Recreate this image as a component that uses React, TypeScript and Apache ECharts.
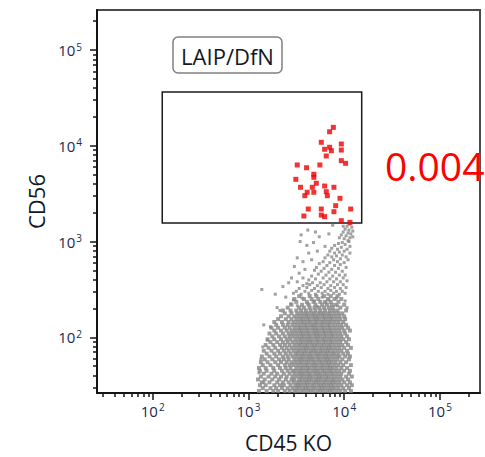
import React, { useEffect, useRef } from "react";
import * as echarts from "echarts";

// Axis range in log10 units: 26.2144 .. 262144 (18-bit cytometer scale)
const AXIS_MIN = 1.4185;
const AXIS_MAX = 5.4185;
const majorExps = [2, 3, 4, 5];
const minorTickValues = [
  30, 40, 50, 60, 70, 80, 90,
  200, 300, 400, 500, 600, 700, 800, 900,
  2000, 3000, 4000, 5000, 6000, 7000, 8000, 9000,
  20000, 30000, 40000, 50000, 60000, 70000, 80000, 90000,
  200000,
];

// Gate (log10 CD45 KO, log10 CD56)
const gateLogX = [2.1, 4.183];
const gateLogY = [3.194, 4.562];

// LAIP/DfN events (log10 CD45 KO, log10 CD56)
const laipEvents: [number, number][] = [
  [3.887, 4.193], [3.848, 4.147], [3.761, 4.037], [3.97, 4.019], [3.848, 3.985],
  [3.796, 3.964], [3.866, 3.949], [3.97, 3.956], [3.813, 3.894], [3.97, 3.845],
  [4.015, 3.817], [3.51, 3.8], [3.607, 3.771], [3.746, 3.8], [3.683, 3.703],
  [3.683, 3.671], [3.495, 3.65], [3.709, 3.609], [3.544, 3.567], [3.667, 3.567],
  [3.796, 3.58], [3.893, 3.567], [3.614, 3.515], [3.683, 3.515], [3.589, 3.479],
  [3.813, 3.521], [3.824, 3.479], [3.956, 3.452], [3.911, 3.375], [3.625, 3.34],
  [3.761, 3.34], [4.068, 3.34], [3.893, 3.312], [3.579, 3.267], [3.761, 3.277],
  [3.796, 3.26], [3.97, 3.218], [4.06, 3.201],
];

// Dense gray population, read row by row (log10 CD56 row -> log10 CD45 KO events)
const grayRowY = [
  1.44, 1.47, 1.5, 1.53, 1.56, 1.59, 1.62, 1.65, 1.68, 1.71, 1.74, 1.77, 1.8, 1.83, 1.86, 1.89, 1.92,
  1.95, 1.98, 2.01, 2.04, 2.07, 2.1, 2.13, 2.16, 2.19, 2.22, 2.25, 2.28, 2.31, 2.34, 2.37, 2.4, 2.43,
];
const grayRowX: number[][] = [
  [3.11, 3.19, 3.26, 3.31, 3.38, 3.43, 3.48, 3.51, 3.55, 3.58, 3.62, 3.65, 3.68, 3.72, 3.75, 3.78, 3.82, 3.85, 3.88, 3.92, 3.96, 4.01, 4.07],
  [3.15, 3.23, 3.29, 3.35, 3.41, 3.46, 3.5, 3.53, 3.57, 3.6, 3.63, 3.67, 3.7, 3.74, 3.77, 3.8, 3.84, 3.87, 3.9, 3.94, 3.99, 4.05],
  [3.12, 3.18, 3.27, 3.33, 3.37, 3.44, 3.49, 3.52, 3.55, 3.59, 3.62, 3.66, 3.69, 3.73, 3.76, 3.79, 3.83, 3.86, 3.89, 3.93, 3.97, 4.03, 4.08],
  [3.14, 3.22, 3.3, 3.36, 3.42, 3.47, 3.51, 3.54, 3.58, 3.61, 3.64, 3.68, 3.71, 3.74, 3.78, 3.81, 3.85, 3.88, 3.91, 3.95, 4.0, 4.06],
  [3.1, 3.17, 3.25, 3.32, 3.39, 3.45, 3.48, 3.53, 3.56, 3.6, 3.63, 3.66, 3.7, 3.73, 3.76, 3.8, 3.83, 3.87, 3.9, 3.94, 3.98, 4.04],
  [3.13, 3.21, 3.28, 3.34, 3.4, 3.46, 3.5, 3.54, 3.57, 3.61, 3.64, 3.67, 3.71, 3.74, 3.77, 3.81, 3.84, 3.88, 3.92, 3.96, 4.02, 4.08],
  [3.16, 3.24, 3.3, 3.37, 3.43, 3.48, 3.52, 3.55, 3.58, 3.62, 3.65, 3.69, 3.72, 3.75, 3.79, 3.82, 3.86, 3.89, 3.93, 3.97, 4.05],
  [3.12, 3.19, 3.27, 3.35, 3.41, 3.46, 3.49, 3.53, 3.56, 3.6, 3.63, 3.67, 3.7, 3.73, 3.77, 3.8, 3.84, 3.87, 3.91, 3.95, 4.0, 4.06],
  [3.11, 3.18, 3.26, 3.33, 3.39, 3.44, 3.5, 3.54, 3.57, 3.61, 3.64, 3.68, 3.71, 3.75, 3.78, 3.82, 3.85, 3.88, 3.92, 3.97, 4.03],
  [3.15, 3.23, 3.31, 3.38, 3.43, 3.47, 3.51, 3.55, 3.59, 3.62, 3.66, 3.69, 3.72, 3.76, 3.79, 3.83, 3.86, 3.9, 3.94, 3.99, 4.07],
  [3.13, 3.2, 3.28, 3.34, 3.4, 3.45, 3.49, 3.53, 3.56, 3.6, 3.63, 3.67, 3.7, 3.74, 3.77, 3.81, 3.84, 3.87, 3.91, 3.96, 4.02],
  [3.17, 3.25, 3.32, 3.37, 3.42, 3.48, 3.52, 3.55, 3.58, 3.62, 3.65, 3.68, 3.72, 3.75, 3.79, 3.82, 3.85, 3.89, 3.93, 3.98, 4.05],
  [3.14, 3.22, 3.29, 3.36, 3.41, 3.46, 3.5, 3.54, 3.57, 3.61, 3.64, 3.67, 3.71, 3.74, 3.78, 3.81, 3.84, 3.88, 3.92, 3.95, 4.01, 4.06],
  [3.19, 3.27, 3.33, 3.39, 3.44, 3.49, 3.52, 3.56, 3.59, 3.63, 3.66, 3.7, 3.73, 3.76, 3.8, 3.83, 3.87, 3.9, 3.94, 3.99, 4.04],
  [3.16, 3.24, 3.31, 3.37, 3.42, 3.47, 3.51, 3.54, 3.58, 3.61, 3.65, 3.68, 3.71, 3.75, 3.78, 3.82, 3.85, 3.89, 3.93, 3.97, 4.03],
  [3.21, 3.28, 3.35, 3.4, 3.45, 3.49, 3.53, 3.57, 3.6, 3.63, 3.67, 3.7, 3.74, 3.77, 3.81, 3.84, 3.87, 3.91, 3.95, 4.0, 4.07],
  [3.18, 3.26, 3.33, 3.38, 3.43, 3.48, 3.52, 3.55, 3.59, 3.62, 3.66, 3.69, 3.72, 3.76, 3.79, 3.83, 3.86, 3.9, 3.94, 3.98, 4.04],
  [3.23, 3.3, 3.36, 3.41, 3.46, 3.5, 3.54, 3.57, 3.61, 3.64, 3.67, 3.71, 3.74, 3.78, 3.81, 3.85, 3.88, 3.92, 3.96, 4.02],
  [3.2, 3.27, 3.34, 3.4, 3.44, 3.49, 3.53, 3.56, 3.6, 3.63, 3.66, 3.7, 3.73, 3.77, 3.8, 3.84, 3.87, 3.91, 3.95, 3.99, 4.05],
  [3.25, 3.32, 3.38, 3.43, 3.47, 3.51, 3.55, 3.58, 3.62, 3.65, 3.69, 3.72, 3.75, 3.79, 3.82, 3.86, 3.89, 3.93, 3.97, 4.03],
  [3.22, 3.29, 3.36, 3.42, 3.46, 3.5, 3.54, 3.57, 3.61, 3.64, 3.68, 3.71, 3.74, 3.78, 3.81, 3.85, 3.88, 3.92, 3.96, 4.01],
  [3.27, 3.34, 3.4, 3.45, 3.49, 3.53, 3.56, 3.6, 3.63, 3.67, 3.7, 3.73, 3.77, 3.8, 3.84, 3.87, 3.91, 3.95, 4.0, 4.06],
  [3.24, 3.31, 3.38, 3.43, 3.48, 3.52, 3.55, 3.59, 3.62, 3.66, 3.69, 3.72, 3.76, 3.79, 3.83, 3.86, 3.9, 3.94, 3.98, 4.04],
  [3.29, 3.36, 3.41, 3.46, 3.5, 3.54, 3.58, 3.61, 3.65, 3.68, 3.71, 3.75, 3.78, 3.82, 3.85, 3.89, 3.93, 3.97, 4.02],
  [3.27, 3.35, 3.42, 3.47, 3.51, 3.55, 3.58, 3.62, 3.65, 3.69, 3.72, 3.76, 3.79, 3.83, 3.86, 3.9, 3.94, 3.99],
  [3.31, 3.39, 3.45, 3.5, 3.54, 3.57, 3.61, 3.64, 3.68, 3.71, 3.74, 3.78, 3.81, 3.85, 3.88, 3.92, 3.96, 4.01],
  [3.34, 3.42, 3.48, 3.52, 3.56, 3.6, 3.63, 3.67, 3.7, 3.73, 3.77, 3.8, 3.84, 3.87, 3.91, 3.95, 4.0],
  [3.38, 3.45, 3.51, 3.55, 3.59, 3.62, 3.66, 3.69, 3.73, 3.76, 3.79, 3.83, 3.86, 3.9, 3.94, 3.98],
  [3.36, 3.44, 3.5, 3.55, 3.6, 3.65, 3.7, 3.75, 3.8, 3.85, 3.89, 3.93, 4.02],
  [3.41, 3.53, 3.58, 3.64, 3.69, 3.74, 3.79, 3.84, 3.88, 3.96],
  [3.45, 3.56, 3.63, 3.7, 3.77, 3.82, 3.87, 3.91, 4.0],
  [3.5, 3.61, 3.68, 3.75, 3.8, 3.86, 3.94],
  [3.48, 3.58, 3.66, 3.73, 3.83, 3.9, 3.97],
  [3.53, 3.64, 3.71, 3.79, 3.86, 3.93],
];

// Sparse gray events (streak toward the gate and outliers)
const graySparse: [number, number][] = [
  [4.06, 3.18], [4.08, 3.15], [4.03, 3.16], [4.05, 3.12], [4.09, 3.11], [4.01, 3.13], [4.07, 3.08], [4.04, 3.09],
  [3.99, 3.1], [4.02, 3.06], [4.06, 3.04], [3.97, 3.07], [4.09, 3.05], [4.0, 3.03], [4.04, 3.01], [3.95, 3.04],
  [3.88, 3.17], [3.99, 3.16],
  [4.05, 3.0], [3.98, 2.99], [4.01, 2.97], [3.94, 2.98], [4.06, 2.95], [3.9, 2.96], [3.97, 2.94], [4.03, 2.92],
  [3.93, 2.92], [3.87, 2.93], [4.0, 2.9], [3.95, 2.89], [4.06, 2.88], [3.9, 2.88], [3.85, 2.9], [3.98, 2.86],
  [4.02, 2.84], [3.92, 2.85], [3.87, 2.84], [3.83, 2.86], [3.96, 2.82], [4.04, 2.81], [3.89, 2.81], [3.8, 2.83],
  [3.93, 2.79], [4.0, 2.78],
  [3.85, 2.78], [3.78, 2.79], [3.96, 2.76], [3.9, 2.75], [3.82, 2.75], [3.74, 2.77], [4.02, 2.73], [3.94, 2.72],
  [3.87, 2.71], [3.79, 2.72], [3.71, 2.73], [3.98, 2.69], [3.91, 2.68], [3.84, 2.68], [3.76, 2.69], [3.69, 2.7],
  [4.01, 2.65], [3.95, 2.65], [3.88, 2.64], [3.81, 2.65], [3.73, 2.66], [3.66, 2.64], [3.99, 2.62], [3.92, 2.61],
  [3.85, 2.61], [3.78, 2.62], [3.7, 2.61], [3.63, 2.6], [4.03, 2.59], [3.96, 2.58], [3.89, 2.58], [3.82, 2.58],
  [3.75, 2.57], [3.67, 2.57],
  [3.99, 2.55], [3.93, 2.55], [3.86, 2.54], [3.79, 2.55], [3.72, 2.54], [3.64, 2.55], [3.57, 2.54], [4.02, 2.52],
  [3.96, 2.51], [3.9, 2.52], [3.83, 2.51], [3.76, 2.52], [3.69, 2.51], [3.61, 2.52], [3.53, 2.51], [3.98, 2.48],
  [3.92, 2.48], [3.86, 2.49], [3.8, 2.48], [3.73, 2.48], [3.66, 2.49], [3.59, 2.48], [3.5, 2.48], [4.01, 2.46],
  [3.95, 2.45], [3.89, 2.46], [3.83, 2.45], [3.77, 2.46], [3.7, 2.45], [3.63, 2.46], [3.55, 2.45], [3.47, 2.46],
  [3.55, 3.07], [3.54, 3.0], [3.61, 2.96], [3.68, 2.99], [3.63, 2.88], [3.51, 2.83], [3.57, 2.79], [3.53, 2.67],
  [3.57, 2.62], [3.61, 2.56], [3.14, 2.5], [3.42, 2.57], [3.39, 2.42], [3.3, 2.31], [3.33, 2.28], [3.44, 2.35],
  [3.23, 2.11], [3.16, 2.13], [3.2, 1.97], [3.15, 1.9], [3.13, 1.77], [3.11, 1.63], [3.16, 1.53],
  [3.74, 3.05], [3.8, 2.95], [3.72, 2.9], [3.66, 2.81], [3.48, 2.74], [3.59, 2.71], [3.45, 2.62], [3.51, 2.58],
  [3.36, 2.53], [3.28, 2.45], [3.7, 3.1], [3.84, 3.08], [3.62, 3.12],
  [3.47, 2.39], [3.56, 2.41], [3.69, 2.38], [3.77, 2.42], [3.84, 2.39], [3.92, 2.41], [4.01, 2.38],
  [3.51, 2.33], [3.62, 2.35], [3.72, 2.32], [3.81, 2.36], [3.93, 2.33], [4.03, 2.31],
];

const FONT = '"Open Sans", "Noto Sans", sans-serif';
const LABEL_COLOR = "#1b2a4e";
const TITLE_COLOR = "#121826";
const AXIS_COLOR = "#141414";

export default function App() {
  const ref = useRef<HTMLDivElement>(null);

  useEffect(() => {
    document.body.style.margin = "0";
    if (!ref.current) return;
    const chart = echarts.init(ref.current, null, { renderer: "svg" });

    const coreData: [number, number][] = [];
    grayRowY.forEach((y, i) => grayRowX[i].forEach((x) => coreData.push([x, y])));

    const minorExps = minorTickValues.map((v) => Math.log10(v));

    const labelCfg = {
      customValues: majorExps,
      formatter: (v: number) => `{b|10}{s|${Math.round(v)}}`,
      rich: {
        b: { fontSize: 15, fontFamily: FONT, color: LABEL_COLOR },
        s: { fontSize: 10, fontFamily: FONT, color: LABEL_COLOR, padding: [0, 0, 7, 1] },
      },
    };
    const majorTick = { customValues: majorExps, length: 7, lineStyle: { color: AXIS_COLOR, width: 1.5 } };
    const minorTick = { customValues: minorExps, length: 4, lineStyle: { color: AXIS_COLOR, width: 1.5 } };
    const axisLine = { show: true, lineStyle: { color: AXIS_COLOR, width: 2 } };
    const nameStyle = { fontFamily: FONT, fontSize: 21, color: TITLE_COLOR };

    chart.setOption({
      animation: false,
      grid: {
        left: 97,
        top: 10,
        width: 383,
        height: 383,
        outerBoundsMode: "none",
        containLabel: false,
        show: true,
        borderColor: "#4a4a4a",
        borderWidth: 2,
        backgroundColor: "transparent",
      },
      xAxis: [
        {
          type: "value",
          min: AXIS_MIN,
          max: AXIS_MAX,
          position: "bottom",
          name: "CD45 KO",
          nameLocation: "middle",
          nameGap: 39,
          nameTextStyle: nameStyle,
          splitLine: { show: false },
          axisLine,
          axisTick: majorTick,
          axisLabel: { ...labelCfg, margin: 9 },
        },
        {
          type: "value",
          min: AXIS_MIN,
          max: AXIS_MAX,
          position: "bottom",
          splitLine: { show: false },
          axisLine: { show: false },
          axisTick: minorTick,
          axisLabel: { show: false },
        },
      ],
      yAxis: [
        {
          type: "value",
          min: AXIS_MIN,
          max: AXIS_MAX,
          position: "left",
          name: "CD56",
          nameLocation: "middle",
          nameGap: 45,
          nameTextStyle: { ...nameStyle, fontSize: 22 },
          splitLine: { show: false },
          axisLine,
          axisTick: majorTick,
          axisLabel: { ...labelCfg, margin: 15 },
        },
        {
          type: "value",
          min: AXIS_MIN,
          max: AXIS_MAX,
          position: "left",
          splitLine: { show: false },
          axisLine: { show: false },
          axisTick: minorTick,
          axisLabel: { show: false },
        },
      ],
      series: [
        {
          type: "scatter",
          xAxisIndex: 0,
          yAxisIndex: 0,
          data: coreData,
          symbol: "rect",
          symbolSize: 4,
          itemStyle: { color: "#878787" },
          silent: true,
          z: 2,
        },
        {
          type: "scatter",
          xAxisIndex: 0,
          yAxisIndex: 0,
          data: graySparse,
          symbol: "rect",
          symbolSize: 3,
          itemStyle: { color: "#8a8a8a" },
          silent: true,
          z: 2,
        },
        {
          type: "scatter",
          xAxisIndex: 0,
          yAxisIndex: 0,
          data: laipEvents,
          symbol: "rect",
          symbolSize: 5,
          itemStyle: { color: "#f00000" },
          silent: true,
          z: 4,
          markArea: {
            silent: true,
            label: { show: false },
            itemStyle: { color: "rgba(0,0,0,0)", borderColor: "#1a1a1a", borderWidth: 1.5 },
            data: [[{ coord: [gateLogX[0], gateLogY[1]] }, { coord: [gateLogX[1], gateLogY[0]] }]],
          },
        },
      ],
      graphic: [
        {
          type: "rect",
          shape: { x: 173, y: 37, width: 109, height: 36, r: 5 },
          style: { fill: "#ffffff", stroke: "#808080", lineWidth: 1.5 },
          z: 10,
        },
        {
          type: "text",
          x: 227.5,
          y: 55.5,
          style: {
            text: "LAIP/DfN",
            font: `22px ${FONT}`,
            fill: "#121826",
            align: "center",
            verticalAlign: "middle",
          },
          z: 11,
        },
        {
          type: "text",
          x: 385,
          y: 165,
          style: {
            text: "0.004",
            font: `39px ${FONT}`,
            fill: "#ff0000",
            align: "left",
            verticalAlign: "middle",
          },
          z: 20,
        },
      ],
    });

    return () => chart.dispose();
  }, []);

  return <div ref={ref} style={{ width: 485, height: 457 }} />;
}
